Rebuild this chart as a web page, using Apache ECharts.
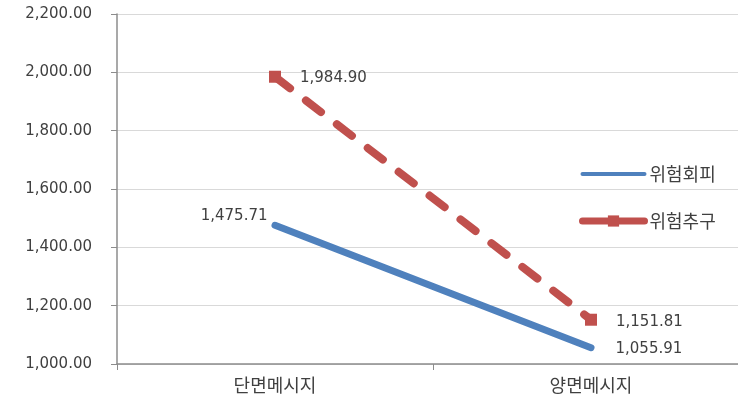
<!DOCTYPE html>
<html>
<head>
<meta charset="utf-8">
<script src="https://cdn.jsdelivr.net/npm/echarts@6/dist/echarts.min.js"></script>
<style>
  html, body { margin: 0; padding: 0; background: #ffffff; overflow: hidden; }
  #frame { width: 738px; height: 410px; overflow: hidden; }
  /* the plot area runs a little past the right edge of the visible frame */
  #chart { width: 750px; height: 410px; }
</style>
</head>
<body>
<div id="frame"><div id="chart"></div></div>
<script>
// Categories and series values
const categories = ['단면메시지', '양면메시지'];
const seriesNames = ['위험회피', '위험추구'];
const riskAvoid = [1475.71, 1055.91];
const riskSeek = [1984.90, 1151.81];
// Value axis range
const yMin = 1000;
const yMax = 2200;
const yStep = 200;

const KR_FONT = '"Noto Sans CJK KR", "Noto Sans", sans-serif';
const NUM_FONT = '"DejaVu Sans", "Noto Sans", sans-serif';
const TEXT_COLOR = '#404040';
const BLUE = '#4F81BD';
const RED = '#C0504D';

function fmt(v) {
  const parts = Number(v).toFixed(2).split('.');
  parts[0] = parts[0].replace(/\B(?=(\d{3})+(?!\d))/g, ',');
  return parts.join('.');
}

// Attach a per-point label placement to each value
function withLabels(values, labelOpts) {
  return values.map((v, i) => ({ value: v, label: labelOpts[i] }));
}

const chart = echarts.init(document.getElementById('chart'));
chart.setOption({
  animation: false,
  backgroundColor: '#ffffff',
  grid: { left: 117, top: 14, right: 1, bottom: 46 },
  legend: {
    orient: 'vertical',
    left: 574,
    top: 160,
    itemGap: 29,
    itemWidth: 62,
    itemHeight: 14,
    textStyle: { fontFamily: KR_FONT, fontSize: 18, color: TEXT_COLOR, padding: [0, 0, 0, 0] },
    data: [
      { name: seriesNames[0], lineStyle: { width: 4, cap: 'round' } },
      { name: seriesNames[1], lineStyle: { width: 7, type: 'solid', cap: 'round' } }
    ]
  },
  xAxis: {
    type: 'category',
    data: categories,
    boundaryGap: true,
    axisLine: { lineStyle: { color: '#8c8c8c', width: 1.5 } },
    axisTick: { show: true, length: 6, lineStyle: { color: '#8c8c8c' } },
    axisLabel: { fontFamily: KR_FONT, fontSize: 18, color: TEXT_COLOR, margin: 12 }
  },
  yAxis: {
    type: 'value',
    min: yMin,
    max: yMax,
    interval: yStep,
    axisLine: { show: true, lineStyle: { color: '#8c8c8c', width: 1.5 } },
    axisTick: { show: true, length: 6, lineStyle: { color: '#8c8c8c' } },
    splitLine: { lineStyle: { color: '#d9d9d9', width: 1 } },
    axisLabel: { fontFamily: NUM_FONT, fontSize: 15, color: TEXT_COLOR, margin: 25, formatter: fmt }
  },
  series: [
    {
      name: seriesNames[0],
      type: 'line',
      data: withLabels(riskAvoid, [
        { position: 'left', distance: 7, offset: [0, -9] },
        { position: 'right', distance: 24, offset: [0, 1] }
      ]),
      symbol: 'circle',
      symbolSize: 1,
      showAllSymbol: true,
      lineStyle: { color: BLUE, width: 7, cap: 'round' },
      itemStyle: { color: 'rgba(0,0,0,0)' },
      label: {
        show: true,
        fontFamily: NUM_FONT,
        fontSize: 15,
        color: TEXT_COLOR,
        formatter: p => fmt(p.value)
      },
      z: 2
    },
    {
      name: seriesNames[1],
      type: 'line',
      data: withLabels(riskSeek, [
        { position: 'right', distance: 19, offset: [0, 1] },
        { position: 'right', distance: 19, offset: [0, 2] }
      ]),
      symbol: 'rect',
      symbolSize: 12,
      showAllSymbol: true,
      lineStyle: { color: RED, width: 8, type: [19, 20], cap: 'round' },
      itemStyle: { color: RED },
      label: {
        show: true,
        fontFamily: NUM_FONT,
        fontSize: 15,
        color: TEXT_COLOR,
        formatter: p => fmt(p.value)
      },
      z: 3
    }
  ]
});
</script>
</body>
</html>
